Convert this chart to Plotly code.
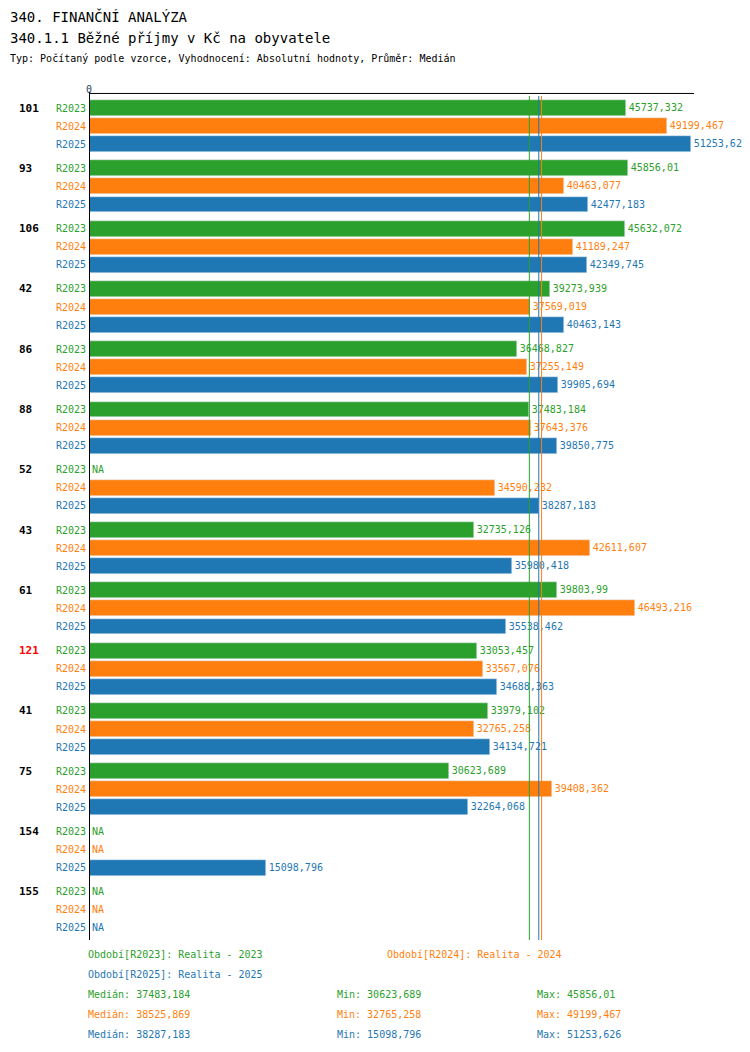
import plotly.graph_objects as go

groups = ['101', '93', '106', '42', '86', '88', '52', '43', '61', '121', '41', '75', '154', '155']
r2023 = [45737.332, 45856.01, 45632.072, 39273.939, 36468.827, 37483.184, None, 32735.126,
         39803.99, 33053.457, 33979.102, 30623.689, None, None]
r2024 = [49199.467, 40463.077, 41189.247, 37569.019, 37255.149, 37643.376, 34590.232, 42611.607,
         46493.216, 33567.076, 32765.258, 39408.362, None, None]
r2025 = [51253.626, 42477.183, 42349.745, 40463.143, 39905.694, 39850.775, 38287.183, 35980.418,
         35538.462, 34688.363, 34134.721, 32264.068, 15098.796, None]
series = ['R2023', 'R2024', 'R2025']
colors = ['#2ca02c', '#ff7f0e', '#1f77b4']
medians = [37483.184, 38525.869, 38287.183]
mins = [30623.689, 32765.258, 15098.796]
maxs = [45856.01, 49199.467, 51253.626]
labels = ['Realita - 2023', 'Realita - 2024', 'Realita - 2025']

FONT = 'DejaVu Sans Mono'
L, R, T, B = 81, 686, 88, 932
GAP = 60 / 18


def fmt(v):
    return ('%.3f' % v).rstrip('0').rstrip('.').replace('.', ',')


def px(xp):
    return (xp - L) / (R - L)


def py(yp):
    return (B - yp) / (B - T)


fig = go.Figure()
tickvals, ticktext = [], []
annotations = []
for k, (name, vals, col) in enumerate(zip(series, [r2023, r2024, r2025], colors)):
    ys = [g * GAP + k for g in range(len(groups))]
    fig.add_trace(go.Bar(
        x=[v if v is not None else 0 for v in vals], y=ys, orientation='h',
        marker_color=col, width=0.88,
        text=[fmt(v) if v is not None else '' for v in vals],
        textposition='outside', cliponaxis=False,
        textfont=dict(color=col, size=10, family=FONT), showlegend=False))
    for y, v in zip(ys, vals):
        tickvals.append(y)
        ticktext.append(f"<span style='color:{col}'>{name}</span>")
        if v is None:
            annotations.append(dict(x=0, y=y, xref='x', yref='y', text='NA', showarrow=False,
                                    xanchor='left', xshift=1,
                                    font=dict(color=col, size=10, family=FONT)))

for g, name in enumerate(groups):
    annotations.append(dict(x=px(9), y=g * GAP, xref='paper', yref='y', text=f'<b>{name}</b>',
                            showarrow=False, xanchor='left',
                            font=dict(color='red' if name == '121' else 'black', size=11, family=FONT)))

shapes = []
for m, col in zip(medians, colors):
    shapes.append(dict(type='line', x0=m, x1=m, y0=0, y1=1, xref='x', yref='paper',
                       line=dict(color=col, width=1)))
shapes.append(dict(type='line', x0=0, x1=0, y0=0, y1=1.005, xref='x', yref='paper',
                   line=dict(color='black', width=2)))
shapes.append(dict(type='line', x0=0, x1=1, y0=1.003, y1=1.003, xref='paper', yref='paper',
                   line=dict(color='black', width=1)))

# titles
for text, yp, size in [('340. FINANČNÍ ANALÝZA', 9, 14), ('340.1.1 Běžné příjmy v Kč na obyvatele', 30, 14),
                       ('Typ: Počítaný podle vzorce, Vyhodnocení: Absolutní hodnoty, Průměr: Medián', 50, 10)]:
    annotations.append(dict(x=px(0), y=py(yp), xref='paper', yref='paper', text=text, showarrow=False,
                            xanchor='left', yanchor='middle', font=dict(size=size, family=FONT, color='black')))

# bottom legend
leg_pos = [(78, 954), (377, 954), (78, 974)]
for (xp, yp), s, lab, col in zip(leg_pos, series, labels, colors):
    annotations.append(dict(x=px(xp), y=py(yp), xref='paper', yref='paper', text=f'Období[{s}]: {lab}',
                            showarrow=False, xanchor='left', font=dict(size=10, family=FONT, color=col)))
for i, col in enumerate(colors):
    yp = 994 + 20 * i
    for xp, t in [(78, 'Medián: ' + fmt(medians[i])), (327, 'Min: ' + fmt(mins[i])), (527, 'Max: ' + fmt(maxs[i]))]:
        annotations.append(dict(x=px(xp), y=py(yp), xref='paper', yref='paper', text=t, showarrow=False,
                                xanchor='left', font=dict(size=10, family=FONT, color=col)))

fig.update_layout(
    width=750, height=1052, margin=dict(l=L, r=750 - R, t=T, b=1052 - B),
    plot_bgcolor='white', paper_bgcolor='white', bargap=0,
    xaxis=dict(range=[0, 51500], side='top', tickvals=[0], ticktext=['0'], showgrid=False, zeroline=False,
               tickfont=dict(size=10, family=FONT), ticks='', automargin=False),
    yaxis=dict(range=[len(groups) * GAP - 0.667, -0.667], tickvals=tickvals, ticktext=ticktext,
               showgrid=False, zeroline=False, ticks='', tickfont=dict(size=10, family=FONT),
               automargin=False, ticklabelstandoff=2),
    shapes=shapes, annotations=annotations)
fig.write_html('out.html')
